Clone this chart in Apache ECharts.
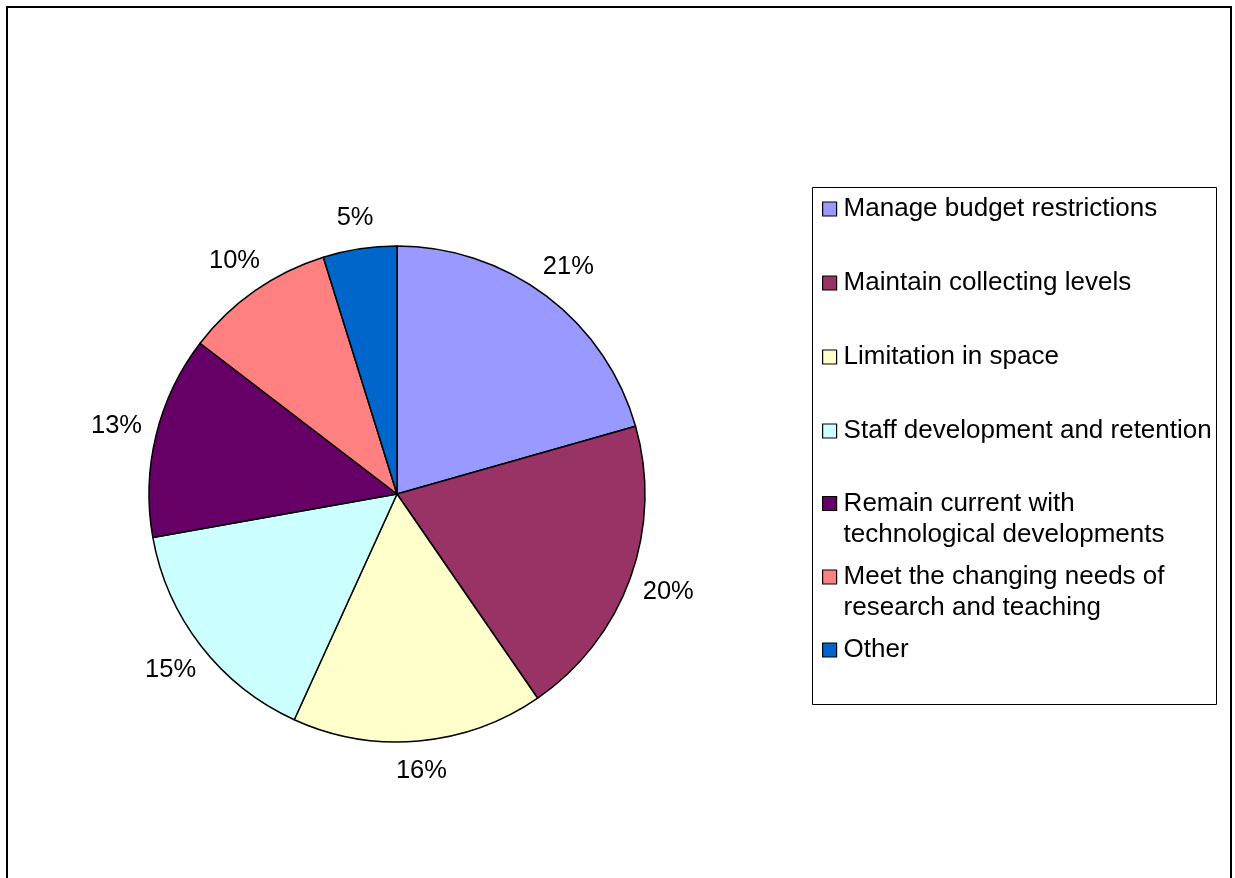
<!DOCTYPE html>
<html>
<head>
<meta charset="utf-8">
<script src="https://cdn.jsdelivr.net/npm/echarts@6/dist/echarts.min.js"></script>
<style>
html,body{margin:0;padding:0;background:#fff;}
#chart{width:1235px;height:878px;}
</style>
</head>
<body>
<div id="chart"></div>
<script>
const categories = [
  'Manage budget restrictions',
  'Maintain collecting levels',
  'Limitation in space',
  'Staff development and retention',
  'Remain current with\ntechnological developments',
  'Meet the changing needs of\nresearch and teaching',
  'Other'
];
// shares (%); labels show them rounded
const values = [20.6, 19.8, 16.4, 15.4, 13.2, 9.8, 4.8];
const colors = ['#9999FF', '#993366', '#FFFFCC', '#CCFFFF', '#660066', '#FF8080', '#0066CC'];

const FONT = 'Liberation Sans, Arial, Helvetica, sans-serif';
const CX = 397, CY = 494;
const pieData = categories.map((c, i) => ({ name: c, value: values[i], itemStyle: { color: colors[i] } }));
const labelData = categories.map((c, i) => ({ name: c, value: values[i] }));

const legendCommon = {
  orient: 'vertical',
  left: 822,
  padding: 0,
  icon: 'rect',
  itemWidth: 14,
  itemHeight: 14,
  selectedMode: false,
  itemStyle: { borderColor: '#000', borderWidth: 1.2 },
  textStyle: { fontFamily: FONT, fontSize: 26, color: '#000', lineHeight: 31, padding: [0, 0, 0, 2] }
};
// two-line entries: marker sits beside the first line
const firstLineFormatter = name => '\n' + name;

const chart = echarts.init(document.getElementById('chart'), null, { renderer: 'canvas' });
chart.setOption({
  animation: false,
  backgroundColor: '#fff',
  color: colors,
  graphic: [
    { type: 'rect', shape: { x: 7, y: 7, width: 1224, height: 900 }, style: { fill: 'none', stroke: '#000', lineWidth: 2 }, silent: true },
    { type: 'rect', shape: { x: 812.5, y: 187.5, width: 404, height: 517 }, style: { fill: 'none', stroke: '#000', lineWidth: 1 }, silent: true }
  ],
  legend: [
    Object.assign({}, legendCommon, { data: categories.slice(0, 4), top: 193.5, itemGap: 43 }),
    Object.assign({}, legendCommon, { data: [categories[4]], top: 457, formatter: firstLineFormatter }),
    Object.assign({}, legendCommon, { data: [categories[5]], top: 530.5, formatter: firstLineFormatter }),
    Object.assign({}, legendCommon, { data: [categories[6]], top: 634.5 })
  ],
  series: [
    {
      type: 'pie',
      center: [CX, CY],
      radius: 248,
      startAngle: 90,
      clockwise: true,
      data: pieData,
      label: { show: false },
      labelLine: { show: false },
      itemStyle: { borderColor: '#000', borderWidth: 1.5 },
      emphasis: { disabled: true },
      silent: true
    },
    {
      type: 'pie',
      center: [CX, CY],
      radius: [265, 305],
      startAngle: 90,
      clockwise: true,
      data: labelData,
      itemStyle: { color: 'rgba(0,0,0,0)', borderWidth: 0 },
      label: {
        show: true,
        position: 'inside',
        formatter: p => Math.round(p.percent) + '%',
        fontFamily: FONT,
        fontSize: 25.5,
        color: '#000',
        textBorderWidth: 0
      },
      // side labels sit a little further out than top/bottom ones
      labelLayout: function (params) {
        const r = params.labelRect;
        const lx = r.x + r.width / 2, ly = r.y + r.height / 2;
        const dx = lx - CX, dy = ly - CY;
        const d = Math.sqrt(dx * dx + dy * dy) || 1;
        const ux = dx / d, uy = dy / d;
        const nd = 277 + 12 * Math.abs(ux);
        return { x: CX + ux * nd, y: CY + uy * nd, align: 'center', verticalAlign: 'middle' };
      },
      labelLine: { show: false },
      emphasis: { disabled: true },
      silent: true
    }
  ]
});
</script>
</body>
</html>
